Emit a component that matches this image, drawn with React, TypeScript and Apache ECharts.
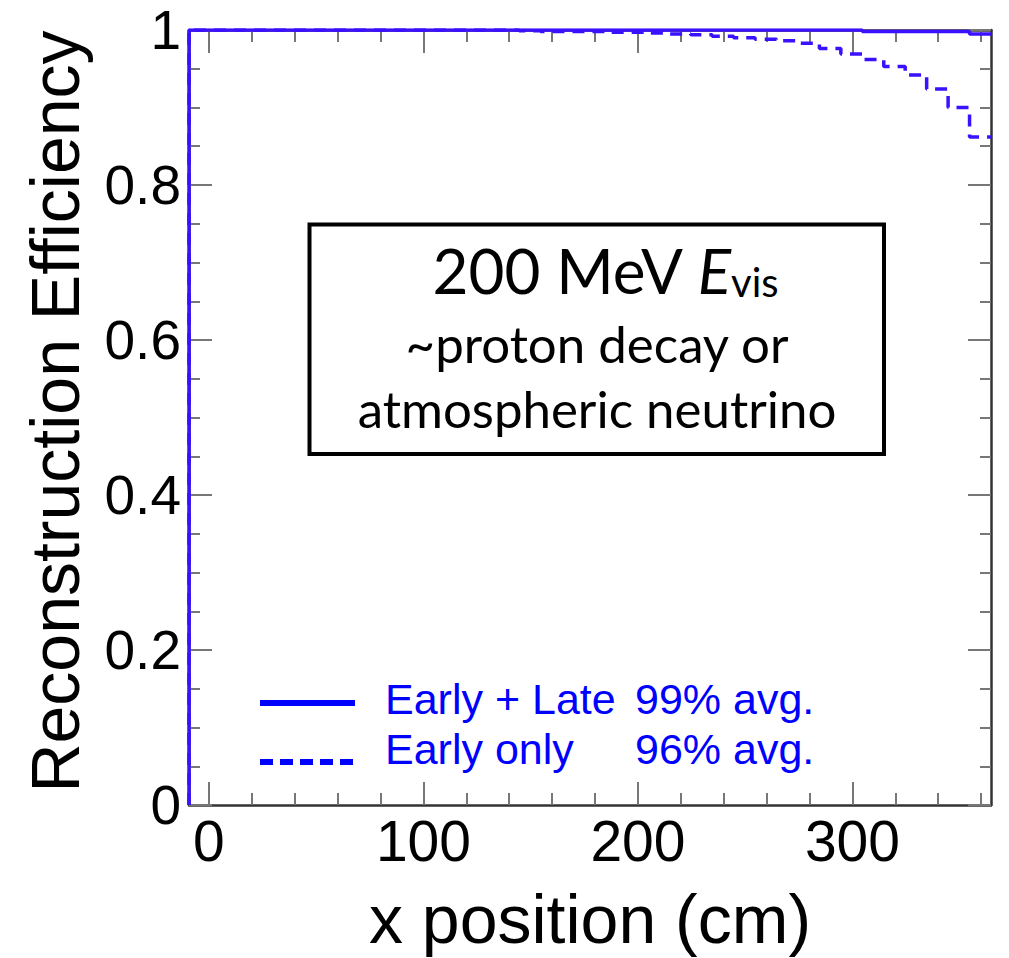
import React, { useEffect, useRef } from 'react';
import * as echarts from 'echarts';

// ---- data ----
const xMin = -9.3;
const xMax = 364.6;
const xMajorTicks = [0, 100, 200, 300];
const xMinorTicks = [20, 40, 60, 80, 120, 140, 160, 180, 220, 240, 260, 280, 320, 340, 360];

// histogram bin starts (cm) and efficiency in each bin (step curves)
const earlyLateEdges = [-9.3, -9.3, 304.6, 354.6, 364.6];
const earlyLateValues = [0, 1, 0.998, 0.995, 0.995];

const earlyOnlyEdges = [
  -9.3, -9.3, 144.6, 154.6, 184.6, 204.6, 214.6, 224.6, 234.6, 244.6, 254.6,
  264.6, 274.6, 284.6, 294.6, 304.6, 314.6, 324.6, 334.6, 344.6, 354.6, 364.6,
];
const earlyOnlyValues = [
  0, 1, 0.999, 0.998, 0.997, 0.996, 0.995, 0.994, 0.992, 0.99, 0.988,
  0.986, 0.983, 0.976, 0.969, 0.962, 0.953, 0.942, 0.924, 0.9, 0.862, 0.862,
];

const legendNames = ['Early + Late', 'Early only'];
const legendAvg = ['99% avg.', '96% avg.'];

const xTitle = 'x position (cm)';
const yTitle = 'Reconstruction Efficiency';

const curveColor = '#3a10ff';
const legendColor = '#0000ff';
const frameColor = '#333333';
const tickColor = '#777777';
const helv = 'Liberation Sans, Arial, Helvetica, sans-serif';

function zip(xs: number[], ys: number[]) {
  return xs.map((x, i) => [x, ys[i]]);
}

function buildOption(): any {
  const baseX = {
    type: 'value',
    min: xMin,
    max: xMax,
    splitLine: { show: false },
  };
  const xAxis = [
    {
      ...baseX,
      position: 'bottom',
      axisLine: { show: true, onZero: false, lineStyle: { color: frameColor, width: 2.5 } },
      axisTick: { show: true, inside: true, length: 23, customValues: xMajorTicks, lineStyle: { color: tickColor, width: 2 } },
      axisLabel: { show: true, customValues: xMajorTicks, fontSize: 57, color: '#000', fontFamily: helv, margin: 7 },
      name: xTitle,
      nameLocation: 'middle',
      nameGap: 80,
      nameTextStyle: { fontSize: 68, color: '#000', fontFamily: helv },
    },
    {
      ...baseX,
      position: 'bottom',
      axisLine: { show: false, onZero: false },
      axisTick: { show: true, inside: true, length: 12, customValues: xMinorTicks, lineStyle: { color: tickColor, width: 2 } },
      axisLabel: { show: false },
    },
    {
      ...baseX,
      position: 'top',
      axisLine: { show: true, onZero: false, lineStyle: { color: frameColor, width: 2.5 } },
      axisTick: { show: true, inside: true, length: 23, customValues: xMajorTicks, lineStyle: { color: tickColor, width: 2 } },
      axisLabel: { show: false },
    },
    {
      ...baseX,
      position: 'top',
      axisLine: { show: false, onZero: false },
      axisTick: { show: true, inside: true, length: 12, customValues: xMinorTicks, lineStyle: { color: tickColor, width: 2 } },
      axisLabel: { show: false },
    },
  ];

  const baseY = {
    type: 'value',
    min: 0,
    max: 1,
    interval: 0.2,
    splitLine: { show: false },
    axisLine: { show: true, onZero: false, lineStyle: { color: frameColor, width: 2.5 } },
    axisTick: { show: true, inside: true, length: 23, lineStyle: { color: tickColor, width: 2 } },
    minorTick: { show: true, splitNumber: 4, length: 11, lineStyle: { color: tickColor, width: 2 } },
  };
  const yAxis = [
    {
      ...baseY,
      position: 'left',
      axisLabel: { show: true, fontSize: 55, color: '#000', fontFamily: helv, margin: 8 },
      name: yTitle,
      nameLocation: 'middle',
      nameRotate: 90,
      nameGap: 100,
      nameTextStyle: { fontSize: 68, color: '#000', fontFamily: helv, padding: [0, 0, 0, 12] },
    },
    {
      ...baseY,
      position: 'right',
      axisLabel: { show: false },
    },
  ];

  const boxCx = 597;
  const graphic = [
    {
      type: 'rect',
      shape: { x: 309.5, y: 224.5, width: 574.5, height: 229.5 },
      style: { fill: '#fff', stroke: '#000', lineWidth: 4 },
      z: 10,
    },
    {
      type: 'text',
      x: boxCx + 8,
      y: 270,
      z: 11,
      style: {
        text: '{m|200 MeV }{e|E}{s|vis}',
        align: 'center',
        verticalAlign: 'middle',
        fill: '#000',
        rich: {
          m: { fontSize: 62, lineHeight: 64, fontFamily: 'Lato', fill: '#000' },
          e: { fontSize: 62, lineHeight: 64, fontFamily: 'Lato', fontStyle: 'italic', fill: '#000' },
          s: { fontSize: 40, lineHeight: 20, fontFamily: 'Lato', verticalAlign: 'bottom', fill: '#000' },
        },
      },
    },
    {
      type: 'text',
      x: boxCx,
      y: 343,
      z: 11,
      style: { text: '~proton decay or', align: 'center', verticalAlign: 'middle', fontSize: 51, fontFamily: 'Lato', fill: '#000' },
    },
    {
      type: 'text',
      x: boxCx,
      y: 408,
      z: 11,
      style: { text: 'atmospheric neutrino', align: 'center', verticalAlign: 'middle', fontSize: 51, fontFamily: 'Lato', fill: '#000' },
    },
    // legend
    {
      type: 'line',
      shape: { x1: 260, y1: 703, x2: 355, y2: 703 },
      style: { stroke: legendColor, lineWidth: 6 },
      z: 11,
    },
    {
      type: 'line',
      shape: { x1: 260, y1: 762, x2: 355, y2: 762 },
      style: { stroke: legendColor, lineWidth: 6, lineDash: [13, 7] },
      z: 11,
    },
    {
      type: 'text', x: 385, y: 699, z: 11,
      style: { text: legendNames[0], align: 'left', verticalAlign: 'middle', fontSize: 43, fontFamily: helv, fill: legendColor },
    },
    {
      type: 'text', x: 635, y: 699, z: 11,
      style: { text: legendAvg[0], align: 'left', verticalAlign: 'middle', fontSize: 43, fontFamily: helv, fill: legendColor },
    },
    {
      type: 'text', x: 385, y: 749, z: 11,
      style: { text: legendNames[1], align: 'left', verticalAlign: 'middle', fontSize: 43, fontFamily: helv, fill: legendColor },
    },
    {
      type: 'text', x: 635, y: 749, z: 11,
      style: { text: legendAvg[1], align: 'left', verticalAlign: 'middle', fontSize: 43, fontFamily: helv, fill: legendColor },
    },
  ];

  return {
    animation: false,
    backgroundColor: '#fff',
    grid: { left: 189, right: 18, top: 30, bottom: 151, containLabel: false },
    xAxis,
    yAxis,
    series: [
      {
        name: legendNames[0],
        type: 'line',
        xAxisIndex: 0,
        yAxisIndex: 0,
        step: 'end',
        symbol: 'none',
        data: zip(earlyLateEdges, earlyLateValues),
        lineStyle: { color: curveColor, width: 3.5 },
        itemStyle: { color: curveColor },
        z: 5,
      },
      {
        name: legendNames[1],
        type: 'line',
        xAxisIndex: 0,
        yAxisIndex: 0,
        step: 'end',
        symbol: 'none',
        data: zip(earlyOnlyEdges, earlyOnlyValues),
        lineStyle: { color: curveColor, width: 3.5, type: [12, 8] },
        itemStyle: { color: curveColor },
        z: 5,
      },
    ],
    graphic,
  };
}

export default function App() {
  const ref = useRef<HTMLDivElement>(null);
  useEffect(() => {
    if (!ref.current) return;
    const chart = echarts.init(ref.current, null, { renderer: 'svg' });
    chart.setOption(buildOption());
    return () => {
      chart.dispose();
    };
  }, []);
  return (
    <div
      ref={ref}
      style={{ position: 'absolute', left: 0, top: 0, width: 1009, height: 958, background: '#fff' }}
    />
  );
}
